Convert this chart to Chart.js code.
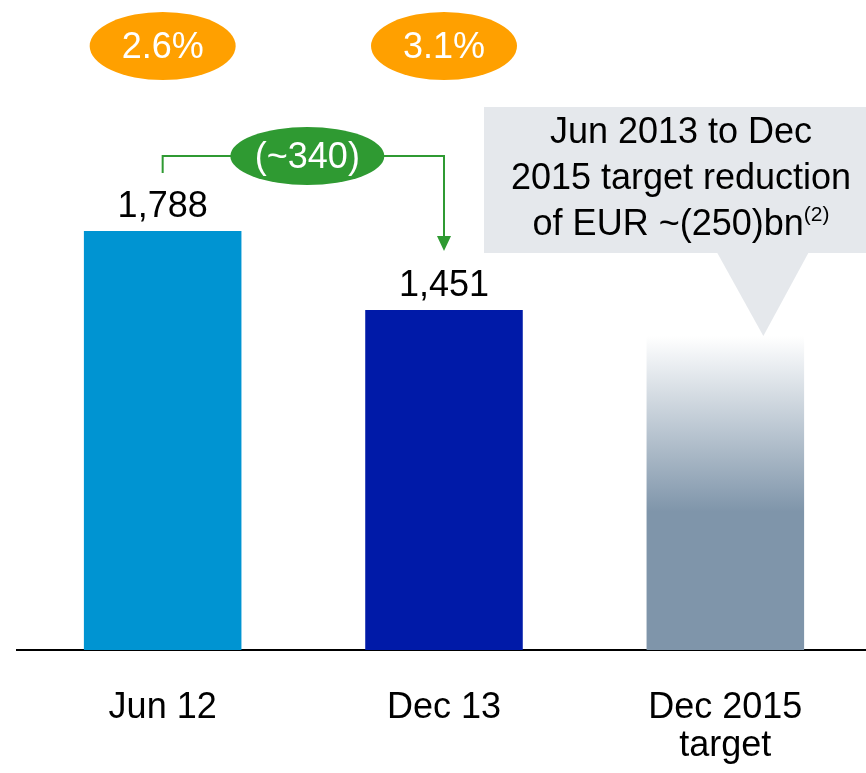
<!DOCTYPE html>
<html>
<head>
<meta charset="utf-8">
<script src="https://cdn.jsdelivr.net/npm/chart.js@4"></script>
<style>
  html, body { margin: 0; padding: 0; background: #fff; overflow: hidden; }
  canvas { display: block; }
</style>
</head>
<body>
<canvas id="chart" width="866" height="773"></canvas>
<script>
/* DATA */

const categories = [["Jun 12"], ["Dec 13"], ["Dec 2015", "target"]];
const values = [1788, 1451, 1340];
const valueLabels = ["1,788", "1,451", ""];
const ratioLabels = ["2.6%", "3.1%"];
const deltaLabel = "(~340)";
const calloutLines = ["Jun 2013 to Dec", "2015 target reduction", "of EUR ~(250)bn"];
const calloutNote = "(2)";

/* STYLE */

const FONT = "'Liberation Sans', Arial, sans-serif";
const barColors = ["#0094d2", "#001aa8", "#7f95aa"];
const orange = "#ffa000";
const green = "#2f9a32";
const calloutFill = "#e5e8ec";

function font(size) {
  return `${size}px ${FONT}`;
}

function barFill(context) {
  const i = context.dataIndex;
  if (i !== 2) return barColors[i];
  const chart = context.chart;
  if (!chart.chartArea) return barColors[i];
  const y = chart.scales.y;
  const top = y.getPixelForValue(values[i]);
  const bottom = y.getPixelForValue(0);
  const g = chart.ctx.createLinearGradient(0, top, 0, bottom);
  g.addColorStop(0, "#ffffff");
  g.addColorStop(0.56, barColors[i]);
  g.addColorStop(1, barColors[i]);
  return g;
}

function ellipse(ctx, cx, cy, rx, ry, fill, text) {
  ctx.beginPath();
  ctx.ellipse(cx, cy, rx, ry, 0, 0, Math.PI * 2);
  ctx.fillStyle = fill;
  ctx.fill();
  ctx.fillStyle = "#fff";
  ctx.font = font(36);
  ctx.textAlign = "center";
  ctx.textBaseline = "alphabetic";
  ctx.fillText(text, cx, cy + 12);
}

/* ANNOTATIONS */

const annotations = {
  id: "annotations",
  beforeDatasetsDraw(chart) {
    const ctx = chart.ctx;
    const y0 = chart.scales.y.getPixelForValue(0);
    ctx.save();
    ctx.strokeStyle = "#000";
    ctx.lineWidth = 2;
    ctx.beginPath();
    ctx.moveTo(16, y0);
    ctx.lineTo(chart.width, y0);
    ctx.stroke();
    ctx.restore();
  },
  afterDatasetsDraw(chart) {
    const ctx = chart.ctx;
    const x = chart.scales.x;
    const y = chart.scales.y;
    ctx.save();

    // value labels above bars
    ctx.fillStyle = "#000";
    ctx.font = font(36);
    ctx.textAlign = "center";
    values.forEach((v, i) => {
      if (!valueLabels[i]) return;
      ctx.fillText(valueLabels[i], x.getPixelForValue(i), y.getPixelForValue(v) - 14);
    });

    // ratio bubbles on top
    ratioLabels.forEach((t, i) => ellipse(ctx, x.getPixelForValue(i), 46, 73, 34, orange, t));

    // reduction connector
    const xa = x.getPixelForValue(0);
    const xb = x.getPixelForValue(1);
    const lineY = 156;
    const tipY = y.getPixelForValue(values[1]) - 59;
    ctx.strokeStyle = green;
    ctx.lineWidth = 2;
    ctx.beginPath();
    ctx.moveTo(xa, lineY + 17);
    ctx.lineTo(xa, lineY);
    ctx.lineTo(xb, lineY);
    ctx.lineTo(xb, tipY - 14);
    ctx.stroke();
    ctx.fillStyle = green;
    ctx.beginPath();
    ctx.moveTo(xb - 7, tipY - 15);
    ctx.lineTo(xb + 7, tipY - 15);
    ctx.lineTo(xb, tipY);
    ctx.closePath();
    ctx.fill();
    ellipse(ctx, (xa + xb) / 2 + 4, lineY, 77, 29, green, deltaLabel);

    // callout for the target bar
    const xc = x.getPixelForValue(2);
    const tip = y.getPixelForValue(values[2]);
    ctx.fillStyle = calloutFill;
    ctx.fillRect(484, 107, chart.width - 484, 146);
    ctx.beginPath();
    ctx.moveTo(xc - 8, 253);
    ctx.lineTo(xc + 83, 253);
    ctx.lineTo(xc + 38, tip);
    ctx.closePath();
    ctx.fill();

    ctx.fillStyle = "#000";
    ctx.font = font(36);
    ctx.textAlign = "center";
    const cx = 681;
    calloutLines.forEach((line, i) => {
      const by = 143 + i * 46;
      if (i === calloutLines.length - 1) {
        ctx.font = font(36);
        const w = ctx.measureText(line).width;
        ctx.font = font(21);
        const wn = ctx.measureText(calloutNote).width;
        const left = cx - (w + wn) / 2;
        ctx.textAlign = "left";
        ctx.font = font(36);
        ctx.fillText(line, left, by);
        ctx.font = font(21);
        ctx.fillText(calloutNote, left + w, by - 14);
      } else {
        ctx.fillText(line, cx, by);
      }
    });
    ctx.restore();
  },
};

/* CHART */

new Chart(document.getElementById("chart"), {
  type: "bar",
  data: {
    labels: categories,
    datasets: [
      {
        data: values,
        backgroundColor: barFill,
        borderWidth: 0,
        categoryPercentage: 1,
        barPercentage: 0.56,
      },
    ],
  },
  options: {
    responsive: false,
    animation: false,
    devicePixelRatio: 1,
    layout: { padding: { left: 22, right: 0, top: 0, bottom: 0 } },
    plugins: { legend: { display: false }, tooltip: { enabled: false } },
    scales: {
      x: {
        grid: { display: false, drawTicks: false },
        border: { display: false },
        afterFit: (scale) => {
          scale.height = 123;
        },
        ticks: {
          color: "#000",
          padding: 40,
          font: { family: FONT, size: 36, lineHeight: 1.03 },
          maxRotation: 0,
          autoSkip: false,
        },
      },
      y: {
        display: false,
        min: 0,
        max: 2774,
      },
    },
  },
  plugins: [annotations],
});
</script>
</body>
</html>
